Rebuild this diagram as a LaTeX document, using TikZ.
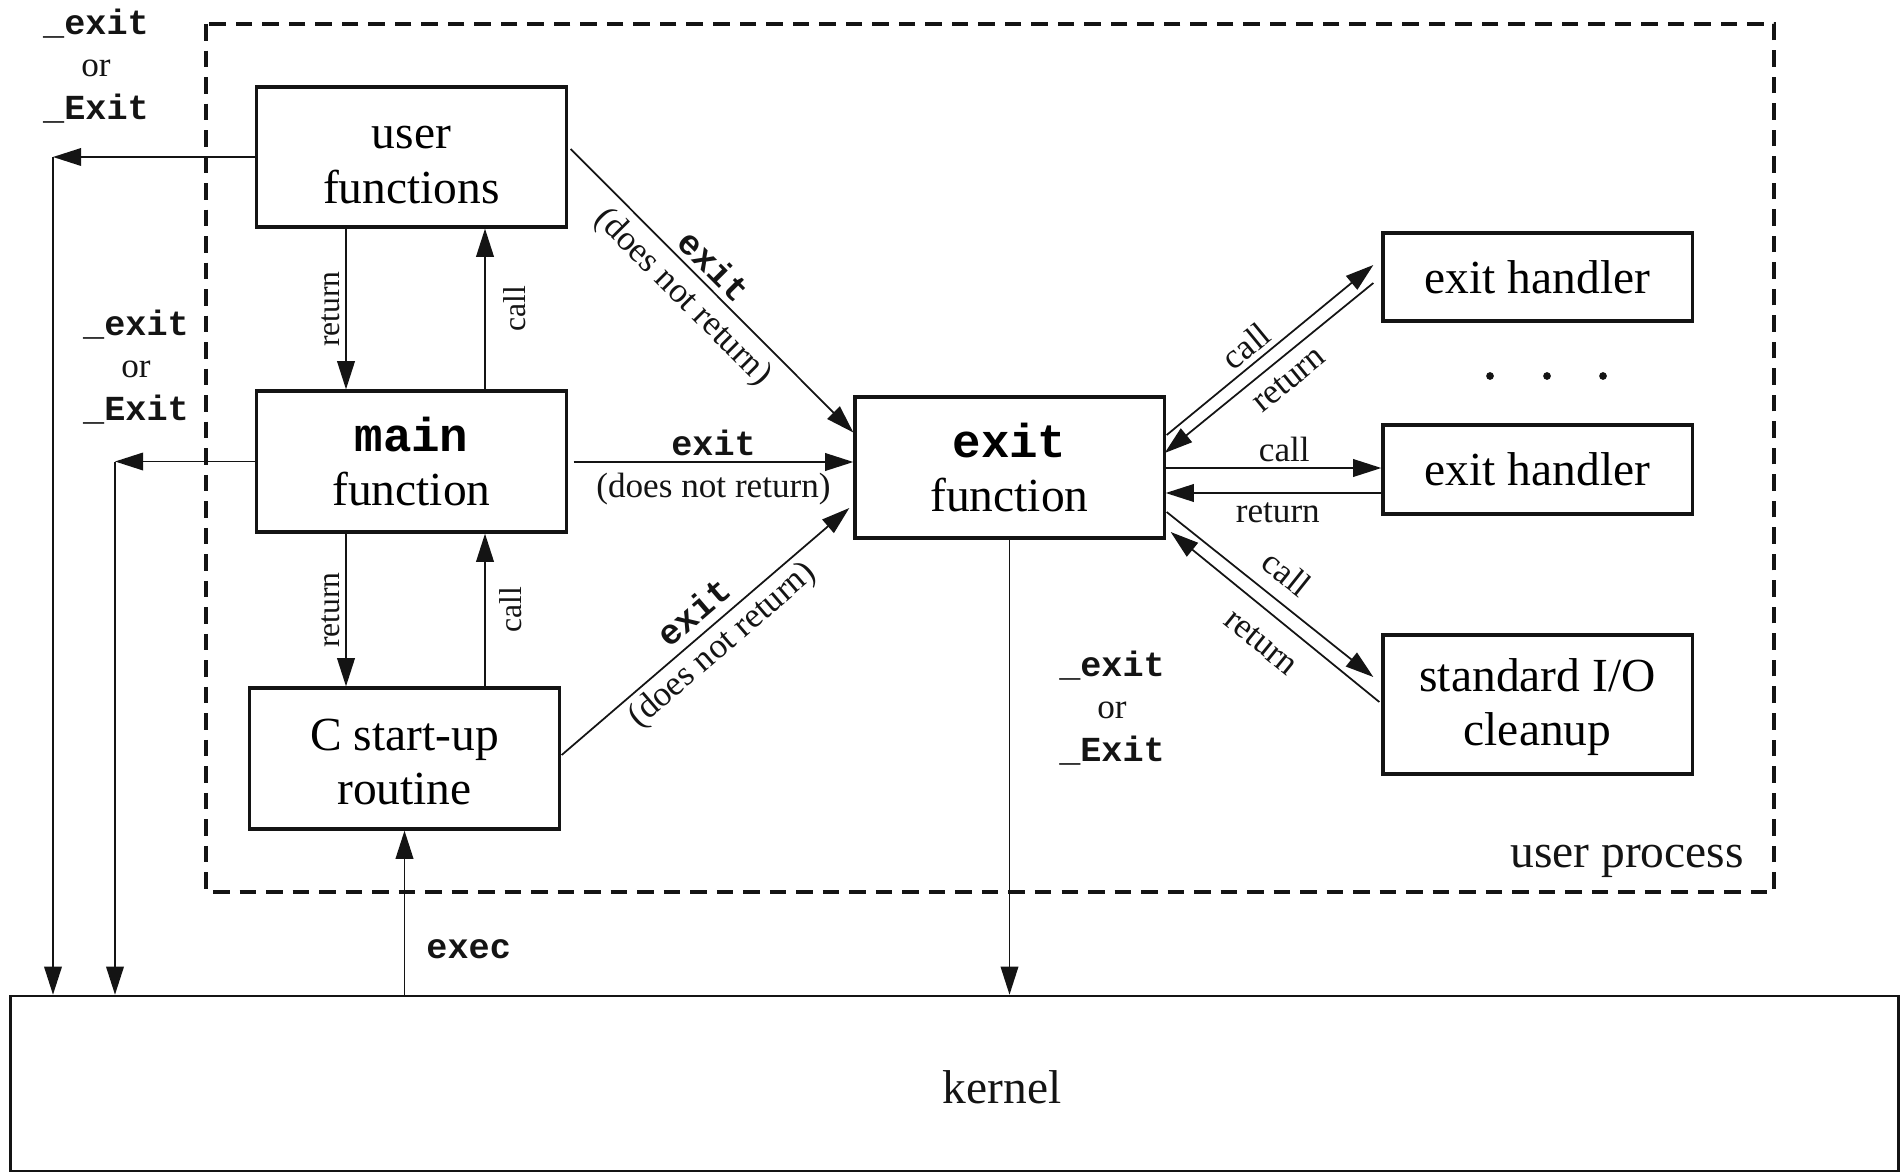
\documentclass[tikz,border=0pt]{standalone}
\usepackage{fontspec}
\setmainfont{Liberation Serif}
\setmonofont{Liberation Mono}
\usetikzlibrary{arrows.meta,calc}
\definecolor{Tinta}{RGB}{20,20,20}
\newcommand{\cod}[1]{{\ttfamily\bfseries #1}}
\newcommand{\salida}{\cod{\_exit}\\or\\\cod{\_Exit}}

\tikzset{
  caja/.style={draw=Tinta, line width=0.9pt, minimum width=3.09cm, minimum height=1.41cm,
    inner sep=0pt, align=center, font=\fontsize{13.5}{15.5}\selectfont},
  flecha/.style={draw=Tinta, line width=0.5pt, -{Triangle[length=8pt,width=5pt]}},
  etiq/.style={font=\fontsize{10}{12}\selectfont, inner sep=1.5pt, text=Tinta},
  peq/.style={etiq, font=\fontsize{9}{11}\selectfont},
  codigo/.style={etiq, align=center},
}

\begin{document}
\begin{tikzpicture}[x=0.01cm, y=-0.01cm]
	\useasboundingbox (0,0) rectangle (1900,1173);
	% Dibuja el proceso de usuario (recuadro discontinuo)
	\draw[Tinta, line width=1pt, dash pattern=on 0.165cm off 0.1cm] (206,24) rectangle (1774,892);
	\node[etiq, font=\fontsize{13.5}{16}\selectfont] (proceso) at (1627,861) {user process};

	% Dibuja las cajas
	\node[caja, minimum height=1.40cm] (userf) at (411.5,157) {\strut user\\functions};
	\node[caja] (mainf) at (411.5,461.5) {\cod{main}\\function};
	\node[caja] (cstart) at (404.5,758.5) {\strut C start-up\\routine};
	\node[caja] (exitf) at (1009.5,467.5) {\cod{exit}\\function};
	\node[caja, minimum height=0.88cm] (hand1) at (1537.5,277) {exit handler};
	\node[caja, minimum height=0.89cm] (hand2) at (1537.5,469.5) {exit handler};
	\node[caja, minimum height=1.39cm] (stdio) at (1537.5,704.5) {\strut standard I/O\\cleanup};
	\node[draw=Tinta, line width=0.7pt, minimum width=18.87cm, minimum height=1.75cm] (kernel) at (954.5,1083.5) {};
	\node[etiq, font=\fontsize{13.5}{16}\selectfont] (kerneltxt) at (1002,1087) {kernel};

	% Puntos entre los manejadores
	\fill[Tinta] (1490,376) circle (1.1pt);
	\fill[Tinta] (1547,376) circle (1.1pt);
	\fill[Tinta] (1603,376) circle (1.1pt);

	% Salidas directas al kernel
	\node[codigo] (sal1) at (96,66) {\salida};
	\node[codigo] (sal2) at (136,367) {\salida};
	\node[codigo] (sal3) at (1112,708) {\salida};
	\coordinate (esq1) at (53,157);
	\coordinate (esq2) at (115,461.5);
	\draw[flecha] (userf.west) -- (esq1);
	\draw[flecha] (esq1) -- (esq1 |- kernel.north);
	\draw[flecha] (mainf.west) -- (esq2);
	\draw[flecha] (esq2) -- (esq2 |- kernel.north);
	\draw[flecha] (exitf.south) -- (exitf.south |- kernel.north);
	\draw[flecha] (cstart.south |- kernel.north) -- node[etiq, right, pos=0.28, inner sep=6pt] (exec) {\cod{exec}} (cstart.south);

	% Llamadas y retornos verticales
	\draw[flecha] ($(userf.south)+(-65.5,0)$) -- node[peq, midway, rotate=90, anchor=south] (ret1) {return} ($(mainf.north)+(-65.5,0)$);
	\draw[flecha] ($(mainf.north)+(73.5,0)$) -- node[peq, midway, rotate=90, anchor=north, inner sep=5pt] (llam1) {call} ($(userf.south)+(73.5,0)$);
	\draw[flecha] ($(mainf.south)+(-65.5,0)$) -- node[peq, midway, rotate=90, anchor=south] (ret2) {return} ($(cstart.north)+(-58.5,0)$);
	\draw[flecha] ($(cstart.north)+(80.5,0)$) -- node[peq, midway, rotate=90, anchor=north, inner sep=4pt] (llam2) {call} ($(mainf.south)+(73.5,0)$);

	% Llamadas a exit
	\draw[flecha] ($(userf.east)+(3,-8)$) -- node[etiq, sloped, above, pos=0.46] (ex1) {\cod{exit}}
		node[etiq, sloped, below, pos=0.46, inner sep=2.5pt] (dnr1) {(does not return)} ($(exitf.west)+(0,-35)$);
	\draw[flecha] ($(mainf.east)+(6,0.5)$) -- node[etiq, above] (ex2) {\cod{exit}}
		node[etiq, below, inner sep=3pt] (dnr2) {(does not return)} ($(exitf.west)+(0,-5.5)$);
	\draw[flecha] ($(cstart.east)+(1,-3.5)$) -- node[etiq, sloped, above, pos=0.51, inner sep=2.5pt] (ex3) {\cod{exit}}
		node[etiq, sloped, below, pos=0.51] (dnr3) {(does not return)} ($(exitf.west)+(-4,40.5)$);

	% Manejadores de salida
	\draw[flecha] ($(exitf.east)+(1,-32.5)$) -- node[etiq, sloped, above, pos=0.44] (c1) {call} ($(hand1.west)+(-8,-12)$);
	\draw[flecha] ($(hand1.west)+(-8,6)$) -- node[etiq, sloped, below, pos=0.47, inner sep=3pt] (r1) {return} ($(exitf.east)+(-1,-14.5)$);
	\draw[flecha] ($(exitf.east)+(0,0.5)$) -- node[etiq, above, pos=0.55] (c2) {call} ($(hand2.west)+(0,-1.5)$);
	\draw[flecha] ($(hand2.west)+(0,23.5)$) -- node[etiq, below, pos=0.48, inner sep=2.5pt] (r2) {return} ($(exitf.east)+(0,25.5)$);
	\draw[flecha] ($(exitf.east)+(1,44.5)$) -- node[etiq, sloped, above, pos=0.5, inner sep=4pt] (c3) {call} ($(stdio.west)+(-8,-27.5)$);
	\draw[flecha] ($(stdio.west)+(-2,-2.5)$) -- node[etiq, sloped, below, pos=0.48, inner sep=5pt] (r3) {return} ($(exitf.east)+(5,64.5)$);
\end{tikzpicture}
\end{document}
